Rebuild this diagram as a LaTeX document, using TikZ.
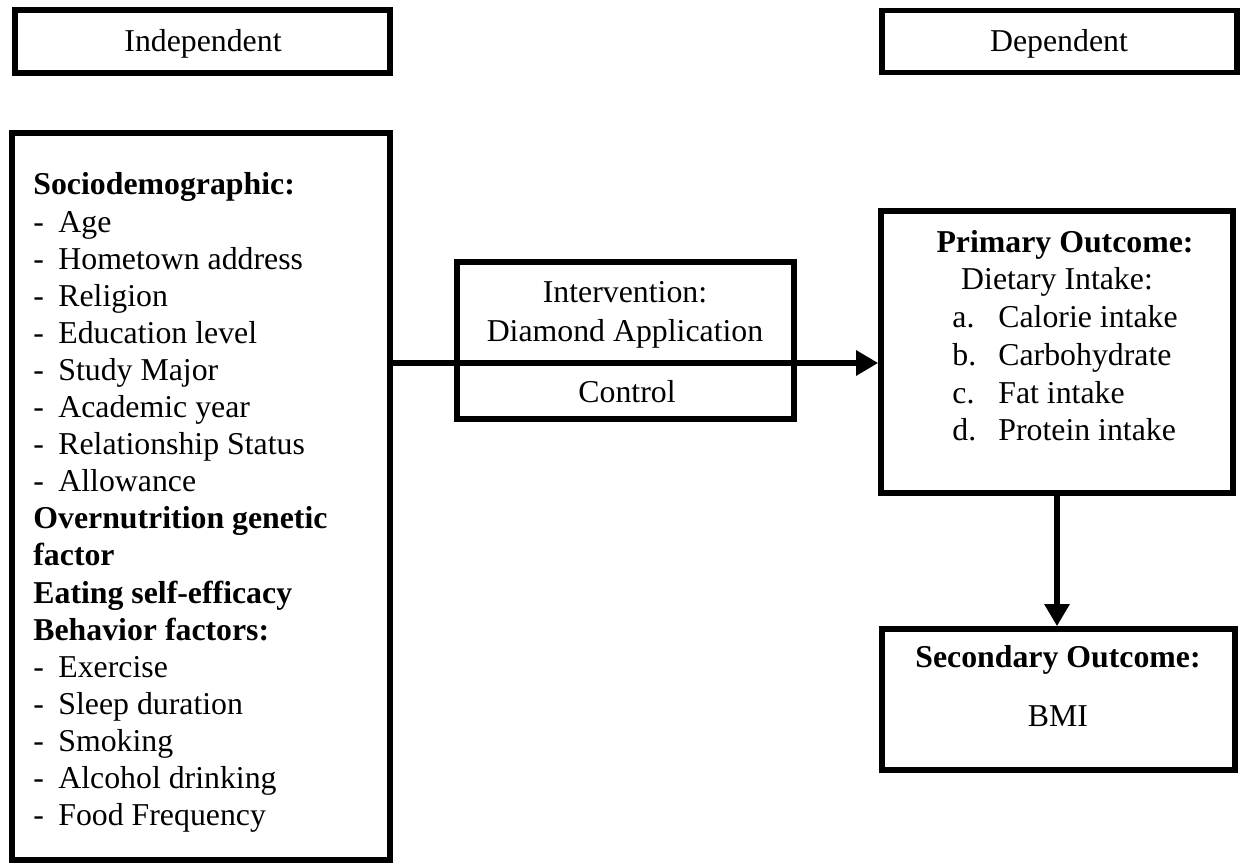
\documentclass[tikz,border=0pt]{standalone}
\usepackage{fontspec}
\setmainfont{Liberation Serif}
\usetikzlibrary{arrows.meta}
\newcommand\dsh{\makebox[12.5pt][l]{-}}
\newcommand\lbl[1]{\makebox[23pt][l]{#1}}
\begin{document}
\begin{tikzpicture}[x=0.5pt,y=-0.5pt,
  box/.style={draw,line width=2.8pt,inner sep=0pt},
  txt/.style={inner sep=0pt,font=\fontsize{15.9}{18.6}\selectfont,anchor=base},
  ltxt/.style={txt,anchor=base west},
  arr/.style={line width=3pt,-{Triangle[length=11pt,width=12pt]}}]
\useasboundingbox (0,0) rectangle (1248,865);
% boxes
\node[box,minimum width=187.5pt,minimum height=31.5pt] (indep) at (202.5,41.5) {};
\node[box,minimum width=177.5pt,minimum height=31pt] (dep) at (1059.5,41.5) {};
\node[box,minimum width=189pt,minimum height=363.5pt] (left) at (201,496.5) {};
\node[box,minimum width=168.5pt,minimum height=78.5pt] (mid) at (625.5,340.5) {};
\node[box,minimum width=176pt,minimum height=141pt] (prim) at (1057,352) {};
\node[box,minimum width=176.5pt,minimum height=70.5pt] (sec) at (1058.5,699.5) {};
% texts
\node[txt] (tindep) at (203,52) {Independent};
\node[txt] (tdep) at (1059,52) {Dependent};
\foreach \t [count=\i] in {{\textbf{Sociodemographic:}},{\dsh Age},{\dsh Hometown address},{\dsh Religion},{\dsh Education level},{\dsh Study Major},{\dsh Academic year},{\dsh Relationship Status},{\dsh Allowance},{\textbf{Overnutrition genetic}},{\textbf{factor}},{\textbf{Eating self-efficacy}},{\textbf{Behavior factors:}},{\dsh Exercise},{\dsh Sleep duration},{\dsh Smoking},{\dsh Alcohol drinking},{\dsh Food Frequency}}
  \node[ltxt] (L\i) at (33,{195+37.1*(\i-1)}) {\t};
\node[txt] (m1) at (625,303) {Intervention:};
\node[txt] (m2) at (625,342) {Diamond Application};
\node[txt] (m3) at (627,403) {Control};
\node[txt] (p1) at (1065,253) {\textbf{Primary Outcome:}};
\node[txt] (p2) at (1057,290) {Dietary Intake:};
\node[ltxt] (p3) at (952,328) {\lbl{a.}Calorie intake};
\node[ltxt] (p4) at (952,366) {\lbl{b.}Carbohydrate};
\node[ltxt] (p5) at (952,404) {\lbl{c.}Fat intake};
\node[ltxt] (p6) at (952,441) {\lbl{d.}Protein intake};
\node[txt] (s1) at (1058,668) {\textbf{Secondary Outcome:}};
\node[txt] (s2) at (1058,726) {BMI};
% connectors
\coordinate (split) at (625,363);
\draw[arr] (left.east |- split) -- (prim.west |- split);
\draw[arr] (prim.south) -- (prim.south |- sec.north);
\end{tikzpicture}
\end{document}
